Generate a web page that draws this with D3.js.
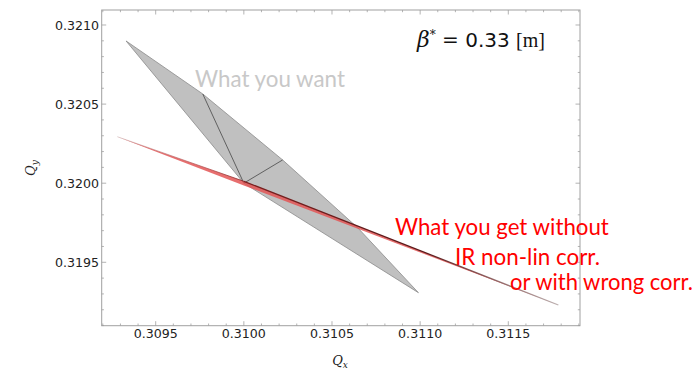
<!DOCTYPE html>
<html>
<head>
<meta charset="utf-8">
<script src="https://cdn.jsdelivr.net/npm/d3@7"></script>
<style>
  html, body { margin: 0; padding: 0; background: #fff; }
  svg { display: block; }
</style>
</head>
<body>
<svg id="chart" width="696" height="370"></svg>
<script>
// Axis ranges and ticks
const xDomain = [0.3091937, 0.3119067];
const yDomain = [0.3190992, 0.3210948];
const xMajorTicks = [0.3095, 0.3100, 0.3105, 0.3110, 0.3115];
const yMajorTicks = [0.3195, 0.3200, 0.3205, 0.3210];
const minorStep = 0.0001;

// Tune footprint with correct IR non-linear correction (outline vertices)
const wantQx = [0.309332, 0.309767, 0.310220, 0.310647, 0.310990, 0.310000];
const wantQy = [0.320899, 0.320564, 0.320147, 0.319717, 0.319308, 0.320000];
// Interior grid lines of that footprint, from the working point outward
const gridFromQx = [0.310000, 0.310000];
const gridFromQy = [0.320000, 0.320000];
const gridToQx = [0.309767, 0.310220];
const gridToQy = [0.320564, 0.320147];

// Collapsed footprint without (or with wrong) correction
const getQx = [0.309282, 0.310000, 0.311784, 0.310000];
const getQy = [0.320294, 0.320012, 0.319230, 0.319986];

const svg = d3.select("#chart");
const margin = { left: 101.7, right: 696 - 580, top: 10, bottom: 370 - 325.7 };
const W = 696, H = 370;

const x = d3.scaleLinear().domain(xDomain).range([margin.left, W - margin.right]);
const y = d3.scaleLinear().domain(yDomain).range([H - margin.bottom, margin.top]);

const fmt = d3.format(".4f");
const axisColor = "#a0a0a0";

// Footprint polygons
const wantPts = wantQx.map((q, i) => [x(q), y(wantQy[i])]);
svg.append("path")
  .attr("d", "M" + wantPts.map(p => p.join(",")).join("L") + "Z")
  .attr("fill", "#c0c0c0")
  .attr("stroke", "#8a8a8a")
  .attr("stroke-width", 0.8)
  .attr("stroke-linejoin", "round");

gridFromQx.forEach((q, i) => {
  svg.append("line")
    .attr("x1", x(q)).attr("y1", y(gridFromQy[i]))
    .attr("x2", x(gridToQx[i])).attr("y2", y(gridToQy[i]))
    .attr("stroke", "#555")
    .attr("stroke-width", 0.9);
});

// Wrong-correction footprint: thin red sliver with a dark edge
const defs = svg.append("defs");
const g1 = defs.append("linearGradient")
  .attr("id", "edgeGrad")
  .attr("gradientUnits", "userSpaceOnUse")
  .attr("x1", x(getQx[0])).attr("y1", y(getQy[0]))
  .attr("x2", x(getQx[2])).attr("y2", y(getQy[2]));
[[0, "#c0a0a0", 0.6], [0.2, "#b04a4a", 0.9], [0.29, "#7a2020", 1], [0.7, "#5a1a1a", 1], [1, "#a09090", 0.7]]
  .forEach(s => g1.append("stop").attr("offset", s[0]).attr("stop-color", s[1]).attr("stop-opacity", s[2]));

const getPts = getQx.map((q, i) => [x(q), y(getQy[i])]);
svg.append("path")
  .attr("d", "M" + getPts.map(p => p.join(",")).join("L") + "Z")
  .attr("fill", "#e35555")
  .attr("fill-opacity", 0.85)
  .attr("stroke", "none");

svg.append("line")
  .attr("x1", getPts[0][0]).attr("y1", getPts[0][1])
  .attr("x2", getPts[1][0]).attr("y2", getPts[1][1])
  .attr("stroke", "url(#edgeGrad)").attr("stroke-width", 0.8);
svg.append("line")
  .attr("x1", getPts[1][0]).attr("y1", getPts[1][1])
  .attr("x2", getPts[2][0]).attr("y2", getPts[2][1])
  .attr("stroke", "url(#edgeGrad)").attr("stroke-width", 1.3);

// Frame
svg.append("rect")
  .attr("x", margin.left).attr("y", margin.top)
  .attr("width", W - margin.right - margin.left)
  .attr("height", H - margin.bottom - margin.top)
  .attr("fill", "none").attr("stroke", axisColor).attr("stroke-width", 1);

// Ticks pointing inward on all four sides
function minorTicks(domain) {
  const out = [];
  const start = Math.ceil(domain[0] / minorStep - 1e-6);
  const end = Math.floor(domain[1] / minorStep + 1e-6);
  for (let k = start; k <= end; k++) out.push(+(k * minorStep).toFixed(5));
  return out;
}
const xMinor = minorTicks(xDomain);
const yMinor = minorTicks(yDomain);
const isMajor = (v, list) => list.some(m => Math.abs(m - v) < 1e-7);

const tickG = svg.append("g").attr("stroke", axisColor).attr("stroke-width", 0.8);
const yb = y.range()[0], yt = y.range()[1];
const xl = x.range()[0], xr = x.range()[1];
xMinor.forEach(v => {
  const len = isMajor(v, xMajorTicks) ? 4.5 : 2.2;
  tickG.append("line").attr("x1", x(v)).attr("x2", x(v)).attr("y1", yb).attr("y2", yb - len);
  tickG.append("line").attr("x1", x(v)).attr("x2", x(v)).attr("y1", yt).attr("y2", yt + len);
});
yMinor.forEach(v => {
  const len = isMajor(v, yMajorTicks) ? 4.5 : 2.2;
  tickG.append("line").attr("y1", y(v)).attr("y2", y(v)).attr("x1", xl).attr("x2", xl + len);
  tickG.append("line").attr("y1", y(v)).attr("y2", y(v)).attr("x1", xr).attr("x2", xr - len);
});

// Tick labels
svg.append("g").selectAll("text").data(xMajorTicks).join("text")
  .attr("x", d => x(d)).attr("y", 338)
  .attr("text-anchor", "middle")
  .attr("font-family", "DejaVu Sans").attr("font-size", 12.6).attr("fill", "#222")
  .text(fmt);
svg.append("g").selectAll("text").data(yMajorTicks).join("text")
  .attr("x", 99).attr("y", d => y(d))
  .attr("dy", "0.36em")
  .attr("text-anchor", "end")
  .attr("font-family", "DejaVu Sans").attr("font-size", 12.6).attr("fill", "#222")
  .text(fmt);

// Axis titles
const xt = svg.append("text")
  .attr("x", 340).attr("y", 365).attr("text-anchor", "middle")
  .attr("font-family", "DejaVu Serif").attr("font-style", "italic")
  .attr("font-size", 13).attr("fill", "#222");
xt.append("tspan").text("Q");
xt.append("tspan").attr("font-size", 9).attr("dy", 3).text("x");

const ytl = svg.append("text")
  .attr("transform", "translate(35,168) rotate(-90)")
  .attr("text-anchor", "middle")
  .attr("font-family", "DejaVu Serif").attr("font-style", "italic")
  .attr("font-size", 13).attr("fill", "#222");
ytl.append("tspan").text("Q");
ytl.append("tspan").attr("font-size", 9).attr("dy", 3).text("y");

// Beta-star annotation
const bt = svg.append("text").attr("x", 417).attr("y", 47)
  .attr("font-size", 20).attr("fill", "#111");
bt.append("tspan").attr("font-family", "DejaVu Serif").attr("font-style", "italic").attr("font-size", 22).text("β");
bt.append("tspan").attr("font-family", "DejaVu Serif").attr("font-size", 12).attr("dy", -8).text("*");
bt.append("tspan").attr("font-family", "DejaVu Serif").attr("dy", 8).text(" = ");
bt.append("tspan").attr("font-family", "DejaVu Sans").text("0.33 ");
bt.append("tspan").attr("font-family", "Liberation Serif").text("[m]");

// Annotations in a horizontally condensed sans face
function condense(sel) {
  sel.each(function (d) {
    const len = this.getComputedTextLength();
    const sx = len > 0 ? d.w / len : 1;
    this.setAttribute("transform", `translate(${d.x},${d.y}) scale(${sx.toFixed(4)},1)`);
  });
}

const notes = [
  { text: "What you want", x: 195, y: 87, w: 150, color: "#c8c8c8" },
  { text: "What you get without", x: 395, y: 235, w: 214, color: "#ff0000" },
  { text: "IR non-lin corr.", x: 455, y: 265, w: 145, color: "#ff0000" },
  { text: "or with wrong corr.", x: 510, y: 290, w: 183, color: "#ff0000" }
];
svg.append("g").selectAll("text").data(notes).join("text")
  .attr("font-family", "Lato").attr("font-size", 23)
  .attr("fill", d => d.color)
  .text(d => d.text)
  .call(condense);
</script>
</body>
</html>
